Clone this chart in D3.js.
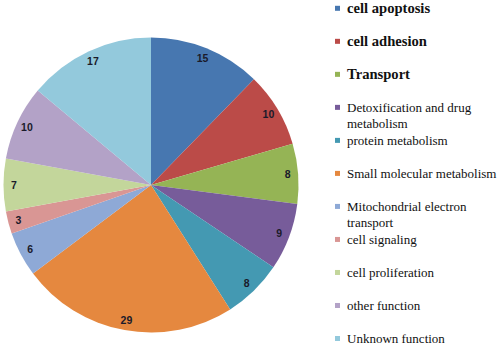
<!DOCTYPE html>
<html>
<head>
<meta charset="utf-8">
<script src="https://cdn.jsdelivr.net/npm/d3@7"></script>
<style>
  html, body { margin: 0; padding: 0; background: #ffffff; }
  svg { display: block; }
  .legtext { font-family: "Liberation Serif", "Times New Roman", Times, serif; }
  .lbl { font-family: "Liberation Sans", Arial, sans-serif; }
</style>
</head>
<body>
<svg id="chart" width="498" height="347"></svg>
<script>
const categories = [
  "cell apoptosis",
  "cell adhesion",
  "Transport",
  "Detoxification and drug metabolism",
  "protein metabolism",
  "Small molecular metabolism",
  "Mitochondrial electron transport",
  "cell signaling",
  "cell proliferation",
  "other function",
  "Unknown function"
];
const values = [15, 10, 8, 9, 8, 29, 6, 3, 7, 10, 17];
const legendLines = [
  ["cell apoptosis"],
  ["cell adhesion"],
  ["Transport"],
  ["Detoxification and drug", "metabolism"],
  ["protein metabolism"],
  ["Small molecular metabolism"],
  ["Mitochondrial electron", "transport"],
  ["cell signaling"],
  ["cell proliferation"],
  ["other function"],
  ["Unknown function"]
];
const boldLegend = [true, true, true, false, false, false, false, false, false, false, false];
const colors = ["#4777b0", "#bb4b48", "#95b455", "#775c9a", "#4499b2", "#e5883f",
                "#8ea9d6", "#d99694", "#c3d69b", "#b3a2c7", "#93c9dc"];

const data = categories.map((c, i) => ({ name: c, value: values[i], lines: legendLines[i], bold: boldLegend[i], color: colors[i] }));

const svg = d3.select("#chart");
const cx = 151, cy = 185, R = 147.5, labelR = 137;

const pie = d3.pie().value(d => d.value).sort(null);
const arcs = pie(data);
const arc = d3.arc().innerRadius(0).outerRadius(R);
const labelArc = d3.arc().innerRadius(labelR).outerRadius(labelR);

const g = svg.append("g").attr("transform", `translate(${cx},${cy})`);
g.selectAll("path.slice").data(arcs).join("path")
  .attr("class", "slice")
  .attr("d", arc)
  .attr("fill", d => d.data.color);

g.selectAll("text.lbl").data(arcs).join("text")
  .attr("class", "lbl")
  .attr("transform", d => `translate(${labelArc.centroid(d)})`)
  .attr("text-anchor", "middle")
  .attr("dominant-baseline", "central")
  .attr("font-weight", "bold")
  .attr("font-size", 10.5)
  .attr("fill", "#1a1a2a")
  .text(d => d.data.value);

// Legend
const ly = d3.scaleLinear().domain([0, data.length - 1]).range([8.3, 338.5]);
const legend = svg.append("g");
const items = legend.selectAll("g.item").data(data).join("g")
  .attr("class", "item")
  .attr("transform", (d, i) => `translate(335, ${ly(i)})`);
items.append("rect")
  .attr("x", 0).attr("y", -2.5).attr("width", 5).attr("height", 5)
  .attr("fill", d => d.color);
items.each(function(d) {
  const t = d3.select(this).append("text")
    .attr("class", "legtext")
    .attr("x", 12)
    .attr("y", 4.5)
    .attr("font-size", d.bold ? 14.6 : 13)
    .attr("font-weight", d.bold ? "bold" : "normal")
    .attr("fill", "#111");
  d.lines.forEach((ln, k) => {
    t.append("tspan").attr("x", 12).attr("dy", k === 0 ? 0 : 16).text(ln);
  });
});
</script>
</body>
</html>
